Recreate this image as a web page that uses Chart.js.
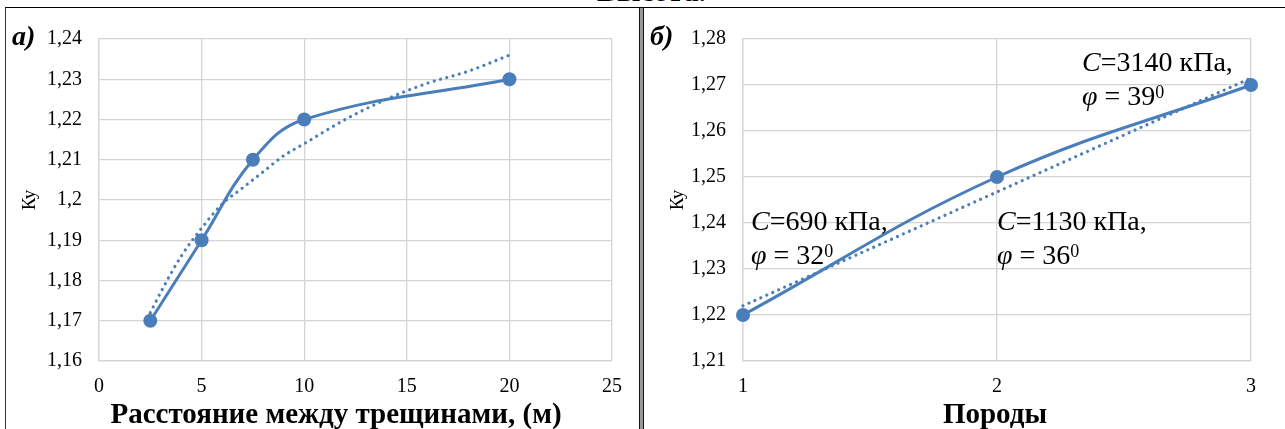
<!DOCTYPE html>
<html lang="ru">
<head>
<meta charset="UTF-8">
<title>Ку</title>
<script src="https://cdn.jsdelivr.net/npm/chart.js"></script>
<style>
  body { margin: 0; width: 1285px; height: 429px; overflow: hidden; background: #fff; position: relative;
         font-family: "Liberation Serif", "Times New Roman", serif; color: #000; }
  .line-top { position: absolute; left: 5px; right: 0; top: 7px; border-top: 1.5px solid #000; }
  .line-left { position: absolute; left: 5px; top: 8px; bottom: 0; border-left: 1px solid #333; }
  .line-mid { position: absolute; left: 639px; top: 8px; bottom: 0; width: 2.5px; background: #999;
              border-left: 1.5px solid #111; border-right: 1.5px solid #111; }
  .panel { position: absolute; top: 10px; }
  .tag { position: absolute; top: 22px; font-size: 28px; line-height: 28px; font-weight: bold; font-style: italic; }
  .cut { position: absolute; top: -24px; left: 597px; font-size: 30px; line-height: 30px; font-weight: bold; white-space: nowrap; }
  .xt { position: absolute; top: 399px; font-size: 29px; line-height: 29px; font-weight: bold; text-align: center; white-space: nowrap; }
</style>
</head>
<body>
<div class="cut">Высота.</div>
<div class="line-top"></div>
<div class="line-left"></div>
<div class="line-mid"></div>

<div class="panel" style="left:6px"><canvas id="chartA" width="634" height="419"></canvas></div>
<div class="panel" style="left:646px"><canvas id="chartB" width="639" height="419"></canvas></div>

<div class="tag" style="left:12px">а)</div>
<div class="tag" style="left:650px">б)</div>
<div class="xt" style="left:36px; width:600px">Расстояние между трещинами, (м)</div>
<div class="xt" style="left:795px; width:400px">Породы</div>

<script>
// panel а) — spacing between cracks
const spacingA = [2.5, 5, 7.5, 10, 20];
const kyA = [1.17, 1.19, 1.21, 1.22, 1.23];
// dotted trend
const trendAX = [2.5, 3, 4, 5, 6, 7, 8, 9, 10, 12, 14, 16, 18, 20];
const trendAY = [1.172, 1.177, 1.186, 1.193, 1.199, 1.203, 1.207, 1.211, 1.214, 1.220, 1.225, 1.229, 1.232, 1.236];
const xRangeA = [0, 25, 5];
const yRangeA = [1.16, 1.24, 0.01];

// panel б) — rock types
const rocksB = [1, 2, 3];
const kyB = [1.22, 1.25, 1.27];
const trendBX = [1, 3];
const trendBY = [1.222, 1.2715];
const xRangeB = [1, 3, 1];
const yRangeB = [1.21, 1.28, 0.01];
const cohesionB = ['690', '1130', '3140'];
const phiB = ['32', '36', '39'];

const BLUE = '#4a7ebb';
const GRID = '#d4d4d4';
const SERIF = '"Liberation Serif", "Times New Roman", serif';

const toPts = (xs, ys) => xs.map((x, i) => ({ x: x, y: ys[i] }));
const fmt = v => String(Math.round(v * 100) / 100).replace('.', ',');

function drawRuns(ctx, x, y, runs) {
  runs.forEach(([font, text, rise]) => {
    ctx.font = font;
    ctx.fillText(text, x, y + (rise || 0));
    x += ctx.measureText(text).width;
  });
}

const notesPlugin = {
  id: 'notes',
  afterDatasetsDraw(chart, args, opts) {
    if (!opts.items) return;
    const { ctx, scales: { x, y } } = chart;
    ctx.save();
    ctx.fillStyle = '#000';
    ctx.textBaseline = 'alphabetic';
    opts.items.forEach((it, i) => {
      const px = x.getPixelForValue(it.at[0]);
      drawRuns(ctx, px, y.getPixelForValue(it.at[1]), [
        ['italic 28px ' + SERIF, 'C'],
        ['28px ' + SERIF, '=' + cohesionB[i] + ' кПа,']
      ]);
      drawRuns(ctx, px, y.getPixelForValue(it.at[2]), [
        ['italic 28px ' + SERIF, 'φ'],
        ['28px ' + SERIF, ' = ' + phiB[i]],
        ['18px ' + SERIF, '0', -7]
      ]);
    });
    ctx.restore();
  }
};

function makeChart(id, cfg) {
  return new Chart(document.getElementById(id), {
    type: 'line',
    data: {
      datasets: [{
        data: toPts(cfg.tx, cfg.ty),
        borderColor: BLUE,
        borderWidth: 3.2,
        borderDash: [0.01, 6.5],
        borderCapStyle: 'round',
        pointRadius: 0,
        cubicInterpolationMode: 'monotone',
        clip: false,
        fill: false
      }, {
        data: toPts(cfg.xs, cfg.ys),
        borderColor: BLUE,
        backgroundColor: BLUE,
        borderWidth: 3,
        tension: cfg.tension,
        pointRadius: 7,
        pointBorderWidth: 0,
        pointBackgroundColor: BLUE,
        clip: false,
        fill: false
      }]
    },
    options: {
      responsive: false,
      animation: false,
      layout: { padding: { top: 27, right: cfg.padRight, left: 0, bottom: 0 } },
      plugins: { legend: { display: false }, tooltip: { enabled: false }, notes: { items: cfg.notes } },
      scales: {
        x: {
          type: 'linear',
          min: cfg.xr[0], max: cfg.xr[1],
          afterFit: s => { s.height = 68; },
          grid: { color: GRID, lineWidth: 1.3, drawTicks: false },
          border: { color: GRID, width: 1.3 },
          ticks: { stepSize: cfg.xr[2], padding: 14, color: '#000', font: { family: SERIF, size: 20 } }
        },
        y: {
          min: cfg.yr[0], max: cfg.yr[1],
          afterFit: s => { s.width = cfg.yWidth; },
          grid: { color: GRID, lineWidth: 1.3, drawTicks: false },
          border: { color: GRID, width: 1.3 },
          ticks: { stepSize: cfg.yr[2], padding: 17, color: '#000', font: { family: SERIF, size: 20 }, callback: fmt },
          title: { display: true, text: 'Ку', color: '#000', font: { family: SERIF, size: 19 },
                   padding: { top: cfg.yTitlePad, bottom: 0 } }
        }
      }
    },
    plugins: [notesPlugin]
  });
}

makeChart('chartA', {
  xs: spacingA, ys: kyA, tx: trendAX, ty: trendAY,
  xr: xRangeA, yr: yRangeA, tension: 0.4,
  padRight: 28, yWidth: 93, yTitlePad: 13
});

makeChart('chartB', {
  xs: rocksB, ys: kyB, tx: trendBX, ty: trendBY,
  xr: xRangeB, yr: yRangeB, tension: 0.4,
  padRight: 34, yWidth: 97, yTitlePad: 21,
  notes: [
    { at: [1.0315, 1.2385, 1.2310] },
    { at: [2.0, 1.2385, 1.2310] },
    { at: [2.335, 1.2731, 1.2657] }
  ]
});
</script>
</body>
</html>
